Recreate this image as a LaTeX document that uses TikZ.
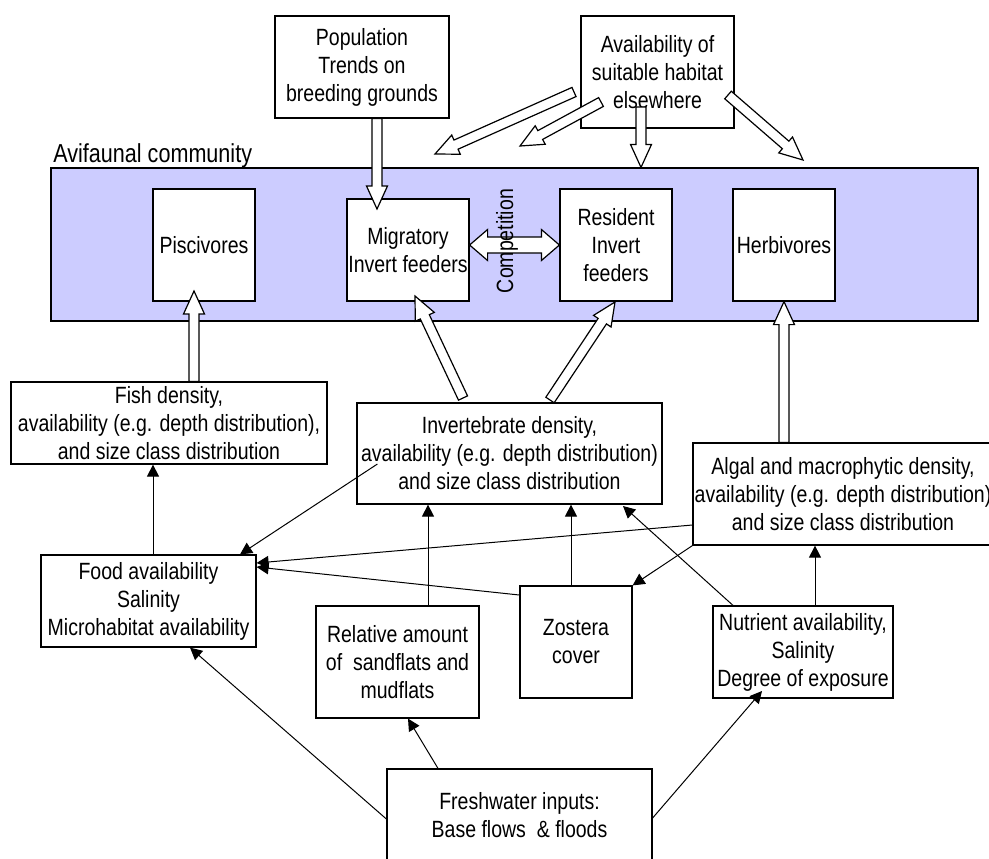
\documentclass[tikz,border=0pt]{standalone}
\usepackage{fontspec}
\setmainfont{Liberation Sans}[FakeStretch=0.83]
\usetikzlibrary{arrows.meta,calc}
\definecolor{lav}{RGB}{204,204,255}

% box given by its corners (x1,y1,x2,y2) in pixel units
\newcommand\boxnode[6]{%
  \node[box, minimum width={(#4-#2)*0.5pt}, minimum height={(#5-#3)*0.5pt}]
    (#1) at ({(#2+#4)/2},{(#3+#5)/2}) {#6};}

% outlined block arrow from #1 to #2
\newcommand\hollowarrow[2]{%
  \coordinate (ha-s) at (#1);
  \coordinate (ha-t) at (#2);
  \coordinate (ha-h) at ($(ha-t)!11.5pt!(ha-s)$);
  \draw[hollow] ($(ha-s)!2.5pt!90:(ha-t)$) -- ($(ha-h)!2.5pt!90:(ha-t)$)
    -- ($(ha-h)!5.25pt!90:(ha-t)$) -- (ha-t) -- ($(ha-h)!5.25pt!-90:(ha-t)$)
    -- ($(ha-h)!2.5pt!-90:(ha-t)$) -- ($(ha-s)!2.5pt!-90:(ha-t)$) -- cycle;}

% outlined block arrow with heads at both ends
\newcommand\hollowdouble[2]{%
  \coordinate (hd-s) at (#1);
  \coordinate (hd-t) at (#2);
  \coordinate (hd-a) at ($(hd-s)!9pt!(hd-t)$);
  \coordinate (hd-b) at ($(hd-t)!9pt!(hd-s)$);
  \draw[hollow] (hd-s) -- ($(hd-a)!7.75pt!90:(hd-t)$) -- ($(hd-a)!4pt!90:(hd-t)$)
    -- ($(hd-b)!4pt!90:(hd-t)$) -- ($(hd-b)!7.75pt!90:(hd-t)$) -- (hd-t)
    -- ($(hd-b)!7.75pt!-90:(hd-t)$) -- ($(hd-b)!4pt!-90:(hd-t)$)
    -- ($(hd-a)!4pt!-90:(hd-t)$) -- ($(hd-a)!7.75pt!-90:(hd-t)$) -- cycle;}

\begin{document}
\begin{tikzpicture}[x=0.5pt, y=-0.5pt,
  box/.style={draw, line width=0.6pt, fill=white, inner sep=0pt, align=center,
    font=\fontsize{11.75pt}{14pt}\selectfont},
  hollow/.style={draw, line width=0.6pt, fill=white, line join=miter},
  conn/.style={-{Triangle[length=6pt,width=6pt]}, line width=0.5pt}]
\useasboundingbox (0,0) rectangle (989,858);

% community panel
\node[draw, line width=0.6pt, fill=lav, minimum width=463.5pt, minimum height=76.5pt,
  inner sep=0pt] (comm) at (514.5,244.5) {};
\node[anchor=base west, inner sep=0pt, font=\fontsize{13pt}{15pt}\selectfont]
  (commlabel) at (53,162) {Avifaunal community};

% guild boxes
\boxnode{pisc}{153}{189}{255}{301}{Piscivores}
\boxnode{migr}{347}{199}{469}{301}{Migratory\\Invert feeders}
\boxnode{resid}{560}{189}{672}{301}{Resident\\Invert\\feeders}
\boxnode{herb}{733}{189}{835}{301}{Herbivores}

% external drivers
\boxnode{pop}{275}{16}{449}{118}{Population\\Trends on\\breeding grounds}
\boxnode{avail}{581}{16}{734}{128}{Availability of\\suitable habitat\\elsewhere}

% food resources
\boxnode{fish}{11}{382}{327}{464}{Fish density,\\availability (e.g. depth distribution),\\and size class distribution}
\boxnode{invert}{357}{403}{662}{504}{Invertebrate density,\\availability (e.g. depth distribution)\\and size class distribution}
\boxnode{algal}{693}{443}{993}{545}{Algal and macrophytic density,\\availability (e.g. depth distribution)\\and size class distribution}

% habitat factors
\boxnode{food}{41}{555}{256}{647}{Food availability\\Salinity\\Microhabitat availability}
\boxnode{rel}{316}{606}{479}{718}{Relative amount\\of~ sandflats and\\mudflats}
\boxnode{zos}{520}{586}{632}{698}{Zostera\\cover}
\boxnode{nut}{713}{606}{893}{698}{Nutrient availability,\\Salinity\\Degree of exposure}
\boxnode{fresh}{387}{769}{652}{861}{Freshwater inputs:\\Base flows~ \& floods}

% influences on the bird guilds
\hollowarrow{377,0 |- pop.south}{377,209}
\hollowarrow{574,92}{435,154}
\hollowarrow{601,102}{520,146}
\hollowarrow{641,107}{641,0 |- comm.north}
\hollowarrow{728,95}{803,160}
\hollowarrow{194,0 |- fish.north}{194,291}
\hollowarrow{463,398}{415,296}
\hollowarrow{550,400}{615,302}
\hollowarrow{784,0 |- algal.north}{784,0 |- herb.south}
\hollowdouble{migr.east |- 0,245}{resid.west |- 0,245}
\node[rotate=90, inner sep=0pt, font=\fontsize{11.75pt}{14pt}\selectfont]
  (comp) at (507,241) {Competition};

% links between habitat factors and resources
\coordinate (invsrc) at ($(invert.west)+(21,10.5)$);
\draw[conn] (153,0 |- food.north) -- (153,0 |- fish.south);
\draw[conn] (invsrc) -- (240,0 |- food.north);
\draw[conn] (algal.west |- 0,525) -- (food.east |- 0,563);
\draw[conn] (zos.west |- 0,595) -- (food.east |- 0,567);
\draw[conn] (428,0 |- rel.north) -- (428,0 |- invert.south);
\draw[conn] (571,0 |- zos.north) -- (571,0 |- invert.south);
\draw[conn] (733,0 |- nut.north) -- (623,506);
\draw[conn] (algal.south west) -- (zos.north east);
\draw[conn] (815,0 |- nut.north) -- (815,0 |- algal.south);
\draw[conn] (fresh.west |- 0,819) -- (190,0 |- food.south);
\draw[conn] (438,0 |- fresh.north) -- (408,0 |- rel.south);
\draw[conn] (fresh.east |- 0,818) -- (762,691);
\end{tikzpicture}
\end{document}
